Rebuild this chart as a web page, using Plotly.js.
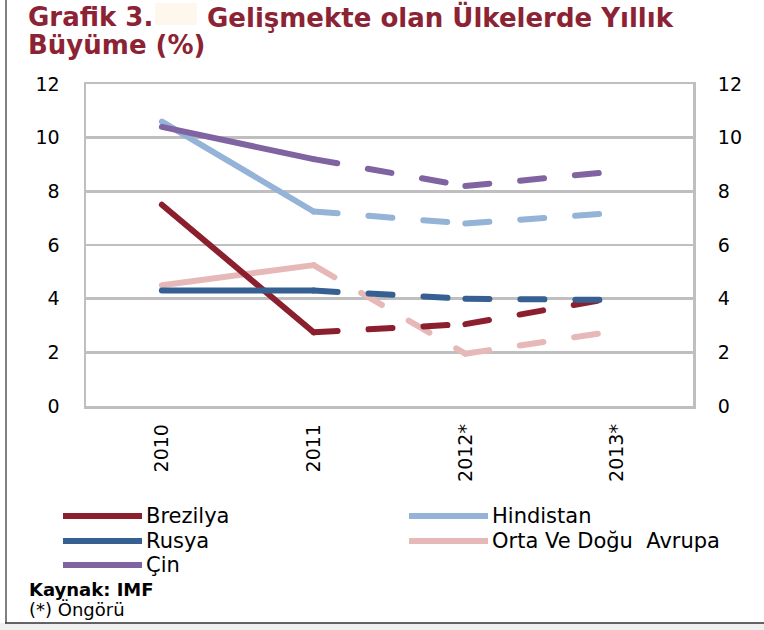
<!DOCTYPE html>
<html><head><meta charset="utf-8">
<script src="https://cdn.plot.ly/plotly-3.0.1.min.js"></script>
<style>
html,body{margin:0;padding:0;background:#fff;}
#chart{width:764px;height:630px;}
.js-line{stroke-linecap:round;stroke-linejoin:round;}
</style></head><body><div id="chart"></div>
<script>
// ---- data ----
const years = ['2010', '2011', '2012*', '2013*'];
const brezilya  = [7.5, 2.75, 3.05, 4.05];
const hindistan = [10.6, 7.25, 6.8, 7.2];
const rusya     = [4.3, 4.3, 4.0, 3.95];
const ortaDogu  = [4.5, 5.25, 1.95, 2.8];
const cin       = [10.4, 9.2, 8.2, 8.75];
const yTicks = [0, 2, 4, 6, 8, 10, 12];
const seriesNames = ['Brezilya', 'Hindistan', 'Rusya', 'Orta Ve Doğu  Avrupa', 'Çin'];
const titleLine1a = 'Grafik 3.';
const titleLine1b = 'Gelişmekte olan Ülkelerde Yıllık';
const titleLine2 = 'Büyüme (%)';
const sourceText = 'Kaynak: IMF';
const noteText = '(*) Öngörü';

// ---- styling ----
const colors = {
  'Brezilya': '#8b1f2e',
  'Hindistan': '#95b3d7',
  'Rusya': '#376092',
  'Orta Ve Doğu  Avrupa': '#e6b9b8',
  'Çin': '#8064a2'
};
const values = {
  'Brezilya': brezilya,
  'Hindistan': hindistan,
  'Rusya': rusya,
  'Orta Ve Doğu  Avrupa': ortaDogu,
  'Çin': cin
};
const drawOrder = ['Orta Ve Doğu  Avrupa', 'Hindistan', 'Brezilya', 'Rusya', 'Çin'];
const LW = 6;
const DASH = '24px,31px';

const W = 764, H = 630;
const mL = 86, mR = 71, mT = 84, mB = 224;
const pw = W - mL - mR, ph = H - mT - mB;
const X = px => (px - mL) / pw;
const Y = py => (mT + ph - py) / ph;

const traces = [];
drawOrder.forEach(name => {
  const v = values[name];
  // solid actual segment, then forecast segments dashed (each restarting its dash pattern)
  const segs = [[0, 1, 'solid'], [1, 2, DASH], [2, 3, DASH]];
  segs.forEach(([a, b, d]) => {
    traces.push({
      x: years.slice(a, b + 1), y: v.slice(a, b + 1),
      type: 'scatter', mode: 'lines', name: name, showlegend: false,
      line: {color: colors[name], width: LW, dash: d},
      hoverinfo: 'skip'
    });
  });
});
// invisible trace so the right-hand mirror axis is drawn
traces.push({x: years, y: cin, yaxis: 'y2', type: 'scatter', mode: 'lines',
  line: {width: 0, color: 'rgba(0,0,0,0)'}, showlegend: false, hoverinfo: 'skip'});

const tickFont = {family: 'DejaVu Sans', size: 19, color: '#000'};
const grid = '#bfbfbf';

const shapes = [];
const annotations = [];
// manual legend
const legendLayout = [
  ['Brezilya', 63, 142, 516],
  ['Hindistan', 409, 488, 516],
  ['Rusya', 63, 142, 541],
  ['Orta Ve Doğu  Avrupa', 409, 488, 541],
  ['Çin', 63, 142, 565]
];
legendLayout.forEach(([name, x0, x1, y]) => {
  shapes.push({type: 'line', xref: 'paper', yref: 'paper', x0: X(x0), x1: X(x1), y0: Y(y), y1: Y(y),
    line: {color: colors[name], width: LW}});
  annotations.push({xref: 'paper', yref: 'paper', x: X(x1 + 2), y: Y(y), xanchor: 'left', yanchor: 'middle',
    text: name, showarrow: false, font: {family: 'DejaVu Sans', size: 21, color: '#000'}});
});
// title
const titleFont = {family: 'DejaVu Sans', size: 26, color: '#8c2334'};
annotations.push({xref: 'paper', yref: 'paper', x: X(26), y: Y(17), xanchor: 'left', yanchor: 'middle',
  text: '<b>' + titleLine1a + '</b>', showarrow: false, font: titleFont});
annotations.push({xref: 'paper', yref: 'paper', x: X(205), y: Y(17), xanchor: 'left', yanchor: 'middle',
  text: '<b>' + titleLine1b + '</b>', showarrow: false, font: titleFont});
annotations.push({xref: 'paper', yref: 'paper', x: X(26), y: Y(45), xanchor: 'left', yanchor: 'middle',
  text: '<b>' + titleLine2 + '</b>', showarrow: false, font: titleFont});
// footer
annotations.push({xref: 'paper', yref: 'paper', x: X(27), y: Y(589), xanchor: 'left', yanchor: 'middle',
  text: '<b>' + sourceText + '</b>', showarrow: false, font: {family: 'DejaVu Sans', size: 18, color: '#000'}});
annotations.push({xref: 'paper', yref: 'paper', x: X(27), y: Y(609), xanchor: 'left', yanchor: 'middle',
  text: noteText, showarrow: false, font: {family: 'DejaVu Sans', size: 18, color: '#000'}});
// cream box in title
shapes.push({type: 'rect', xref: 'paper', yref: 'paper', x0: X(155), x1: X(197), y0: Y(3), y1: Y(25),
  fillcolor: '#fdf7ee', line: {width: 0}, layer: 'below'});
// outer frame
shapes.push({type: 'line', xref: 'paper', yref: 'paper', x0: X(6), x1: X(6), y0: Y(0), y1: Y(623),
  line: {color: '#808080', width: 2}});
shapes.push({type: 'rect', xref: 'paper', yref: 'paper', x0: X(0), x1: X(764), y0: Y(623), y1: Y(630),
  fillcolor: '#f0f0f0', line: {width: 0}});
shapes.push({type: 'line', xref: 'paper', yref: 'paper', x0: X(5), x1: X(764), y0: Y(623), y1: Y(623),
  line: {color: '#333', width: 1.5}});

const layout = {
  width: W, height: H,
  margin: {l: mL, r: mR, t: mT, b: mB, pad: 0},
  paper_bgcolor: '#fff', plot_bgcolor: '#fff',
  showlegend: false,
  xaxis: {type: 'category', categoryarray: years, range: [-0.5, 3.5], tickangle: -90,
    ticks: 'outside', ticklen: 8, tickcolor: 'rgba(0,0,0,0)', tickfont: tickFont,
    showgrid: false, showline: true, mirror: true, linecolor: grid, linewidth: 2.5, zeroline: false, fixedrange: true},
  yaxis: {range: [0, 12], tickvals: yTicks, ticktext: yTicks.map(String),
    ticks: 'outside', ticklen: 20, tickcolor: 'rgba(0,0,0,0)', tickfont: tickFont,
    showgrid: true, gridcolor: grid, gridwidth: 2.5, showline: true, mirror: true,
    linecolor: grid, linewidth: 2.5, zeroline: false, fixedrange: true},
  yaxis2: {range: [0, 12], tickvals: yTicks, ticktext: yTicks.map(String), overlaying: 'y', side: 'right',
    ticks: 'outside', ticklen: 20, tickcolor: 'rgba(0,0,0,0)', tickfont: tickFont,
    showgrid: false, showline: false, zeroline: false, fixedrange: true},
  shapes: shapes,
  annotations: annotations
};
Plotly.newPlot('chart', traces, layout, {displayModeBar: false, staticPlot: true});
</script></body></html>
